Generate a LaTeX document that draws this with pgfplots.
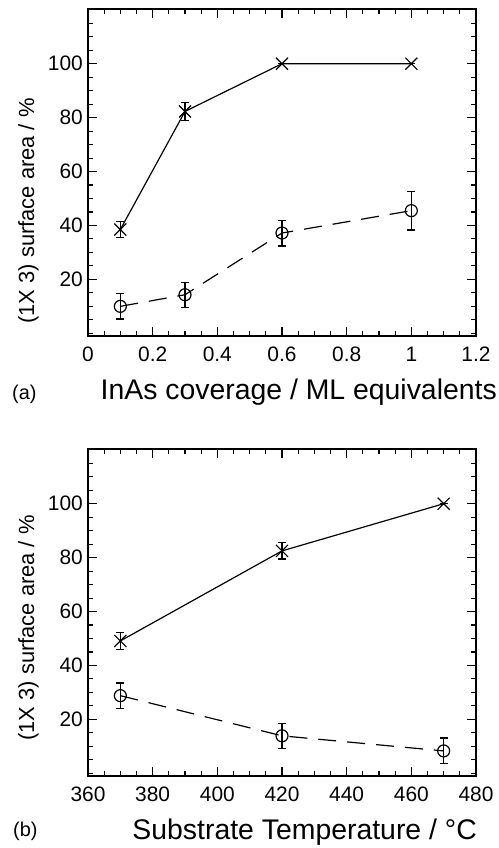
\documentclass[border=0pt]{standalone}
\usepackage{fontspec}
\setmainfont{Liberation Sans}
\usepackage{pgfplots}
\usepackage{pgfplotstable}
\pgfplotsset{compat=1.18}

\pgfplotstableread{
x y e
0.1 38.5 3.0
0.3 82.3 3.2
0.6 100 0
1.0 100 0
}\covcross
\pgfplotstableread{
x y e
0.1 10.0 4.7
0.3 14.3 4.7
0.6 37.2 4.8
1.0 45.5 7.2
}\covcirc
\pgfplotstableread{
x y e
370 49.1 3.2
420 82.5 3.0
470 100 0
}\tempcross
\pgfplotstableread{
x y e
370 28.8 4.7
420 13.9 4.7
470 8.3 4.8
}\tempcirc

\pgfplotsset{
  myaxis/.style={
    anchor=south west,
    width=388bp, height=327bp, scale only axis,
    ymin=-1, ymax=120.3,
    ytick={20,40,60,80,100},
    minor ytick={0,5,...,120},
    tick align=inside,
    major tick length=9bp, minor tick length=5bp,
    every tick/.style={black, line width=1.1bp},
    axis line style={line width=1.4bp},
    /pgf/number format/assume math mode=true,
    tick label style={font=\fontsize{21}{25}\selectfont, inner sep=0pt},
    yticklabel style={anchor=east, xshift=-5bp},
    xticklabel style={anchor=north, yshift=-11bp},
  },
  cross/.style={black, line width=1.2bp, mark=x, mark size=8.5bp,
    error bars/.cd, y dir=both, y explicit,
    error mark=|,
    error bar style={solid, line width=1.1bp},
    error mark options={black, solid, mark size=4bp, line width=1.1bp}},
  circ/.style={black, line width=1.2bp, dash pattern=on 18bp off 11bp,
    mark=o, mark size=6bp, mark options={solid},
    error bars/.cd, y dir=both, y explicit,
    error mark=|,
    error bar style={solid, line width=1.1bp},
    error mark options={black, solid, mark size=4bp, line width=1.1bp}},
}

\begin{document}
\begin{tikzpicture}
\useasboundingbox (0,0) rectangle (499bp,848bp);

\begin{axis}[myaxis, at={(88bp,512bp)},
  xmin=0, xmax=1.2,
  xtick={0,0.2,...,1.2},
  minor xtick={0,0.05,...,1.2},
  xticklabels={0,0.2,0.4,0.6,0.8,1,1.2}]
\addplot[cross] table[x=x, y=y, y error=e] {\covcross};
\addplot[circ] table[x=x, y=y, y error=e] {\covcirc};
\end{axis}

\begin{axis}[myaxis, at={(88bp,72bp)},
  xmin=360, xmax=480,
  xtick={360,380,...,480},
  minor xtick={360,365,...,480}]
\addplot[cross] table[x=x, y=y, y error=e] {\tempcross};
\addplot[circ] table[x=x, y=y, y error=e] {\tempcirc};
\end{axis}

\node[anchor=base west, inner sep=0pt, font=\fontsize{20}{24}\selectfont] at (12bp,448bp) {(a)};
\node[anchor=base east, inner sep=0pt, font=\fontsize{28.5}{34}\selectfont] at (497bp,448bp) {InAs coverage / ML equivalents};
\node[rotate=90, inner sep=0pt, font=\fontsize{22}{26}\selectfont] at (28.5bp,637bp) {(1X 3) surface area / \%};

\node[anchor=base west, inner sep=0pt, font=\fontsize{20}{24}\selectfont] at (13bp,12bp) {(b)};
\node[anchor=base east, inner sep=0pt, font=\fontsize{28.5}{34}\selectfont] at (477bp,9bp) {Substrate Temperature / \textdegree C};
\node[rotate=90, inner sep=0pt, font=\fontsize{22}{26}\selectfont] at (28.5bp,220bp) {(1X 3) surface area / \%};
\end{tikzpicture}
\end{document}
